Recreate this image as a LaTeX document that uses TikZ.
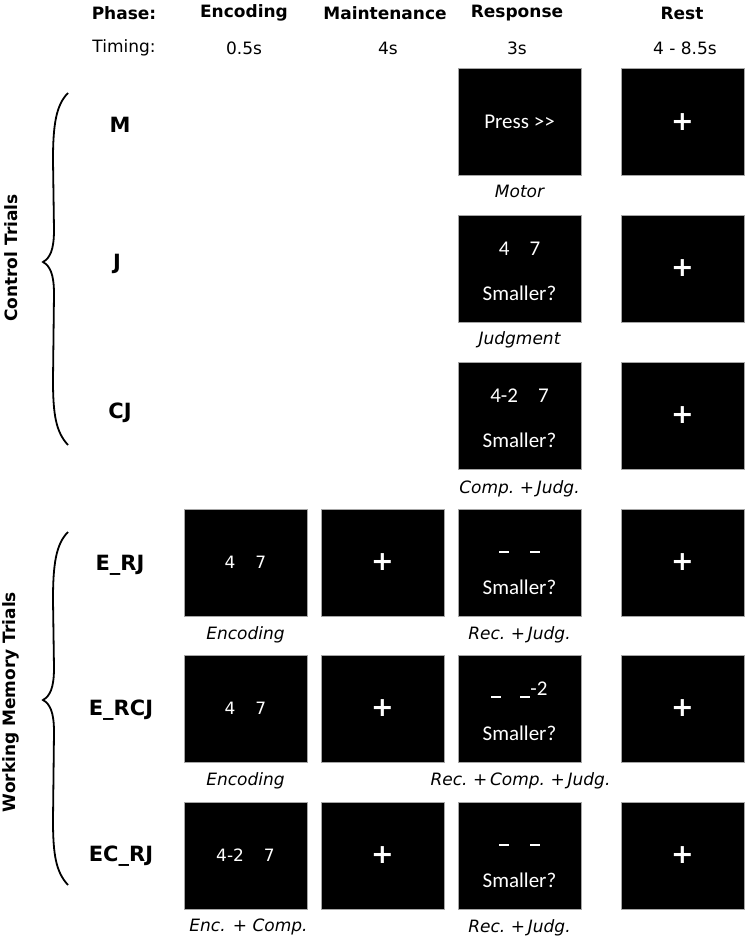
\documentclass[tikz,border=0pt]{standalone}
\usepackage{fontspec}
\setmainfont{DejaVu Sans}
\newfontfamily\scrfont{Carlito}
\newcommand{\dsh}{\rule[4.2pt]{10pt}{1.8pt}}

\begin{document}
\begin{tikzpicture}[x=1pt,y=-1pt,
  scr/.style={fill=black,draw=gray!70,line width=0.8pt,minimum width=123pt,minimum height=107pt,inner sep=0pt,text=white},
  dig/.style={text=white,inner sep=0pt,anchor=base,font=\scrfont\fontsize{21}{24}\selectfont},
  enc/.style={font=\fontsize{17}{20}\selectfont},
  pls/.style={font=\bfseries\fontsize{27}{30}\selectfont},
  hd/.style={font=\bfseries\fontsize{17}{20}\selectfont},
  tm/.style={font=\fontsize{17}{20}\selectfont},
  row/.style={font=\bfseries\fontsize{21}{24}\selectfont},
  grp/.style={font=\bfseries\fontsize{17}{20}\selectfont,rotate=90},
  lbl/.style={anchor=base,inner sep=0pt,font=\itshape\fontsize{17}{20}\selectfont}]
  \useasboundingbox (0,0) rectangle (746,936);

  % headings
  \node[hd] (h0) at (124,13) {Phase:};
  \node[hd] (h1) at (244,13) {Encoding};
  \node[hd] (h2) at (385,13) {Maintenance};
  \node[hd] (h3) at (517,13) {Response};
  \node[hd] (h4) at (682,13) {Rest};
  \node[tm] (t0) at (124,48) {Timing:};
  \node[tm] (t1) at (244,48) {0.5s};
  \node[tm] (t2) at (388,48) {4s};
  \node[tm] (t3) at (517,48) {3s};
  \node[tm] (t4) at (685,48) {4 - 8.5s};

  % row labels
  \node[row] (l1) at (120,124.5) {M};
  \node[row] (l2) at (117,263.5) {J};
  \node[row] (l3) at (120,412.5) {CJ};
  \node[row] (l4) at (120,565) {E\_RJ};
  \node[row] (l5) at (121,710) {E\_RCJ};
  \node[row] (l6) at (121,856.5) {EC\_RJ};

  % control trials
  \node[scr,dig,anchor=center] (r1) at (519.5,122) {Press >{}>};
  \node[scr] (r2) at (519.5,268.5) {};
  \node[dig] (r2a) at ([yshift=13.5pt]r2.center) {4\hspace{20pt}7};
  \node[dig] (r2b) at ([yshift=-31.5pt]r2.center) {Smaller?};
  \node[scr] (r3) at (519.5,415.5) {};
  \node[dig] (r3a) at ([yshift=13.5pt]r3.center) {4-2\hspace{20pt}7};
  \node[dig] (r3b) at ([yshift=-31.5pt]r3.center) {Smaller?};
  \node[lbl] (c1) at ([yshift=-22pt]r1.south) {Motor};
  \node[lbl] (c2) at ([yshift=-22pt]r2.south) {Judgment};
  \node[lbl] (c3) at ([yshift=-24pt]r3.south) {Comp.\ +\,Judg.};

  % working memory trials
  \node[scr,enc] (e4) at (245.5,562.5) {4\hspace{20pt}7};
  \node[scr,enc] (e5) at (245.5,708.5) {4\hspace{20pt}7};
  \node[scr,enc] (e6) at (245.5,855.5) {4-2\hspace{20pt}7};
  \node[scr,pls] (m4) at (382.5,562.5) {+};
  \node[scr,pls] (m5) at (382.5,708.5) {+};
  \node[scr,pls] (m6) at (382.5,855.5) {+};
  \node[scr] (r4) at (519.5,562.5) {};
  \node[dig] (r4a) at ([yshift=5.5pt]r4.center) {\dsh\hspace{21pt}\dsh};
  \node[dig] (r4b) at ([yshift=-31.5pt]r4.center) {Smaller?};
  \node[scr] (r5) at (519.5,708.5) {};
  \node[dig] (r5a) at ([yshift=6.5pt]r5.center) {\dsh\hspace{19pt}\dsh\raisebox{6.5pt}{-2}};
  \node[dig] (r5b) at ([yshift=-31.5pt]r5.center) {Smaller?};
  \node[scr] (r6) at (519.5,855.5) {};
  \node[dig] (r6a) at ([yshift=5.5pt]r6.center) {\dsh\hspace{21pt}\dsh};
  \node[dig] (r6b) at ([yshift=-31.5pt]r6.center) {Smaller?};
  \node[lbl] (c4) at ([yshift=-23pt]e4.south) {Encoding};
  \node[lbl] (c5) at ([yshift=-23pt]e5.south) {Encoding};
  \node[lbl] (c6) at ([xshift=3pt,yshift=-22pt]e6.south) {Enc. + Comp.};
  \node[lbl] (c7) at ([yshift=-23pt]r4.south) {Rec.\ +\,Judg.};
  \node[lbl] (c8) at ([xshift=1pt,yshift=-23pt]r5.south) {Rec.\ +\,Comp.\ +\,Judg.};
  \node[lbl] (c9) at ([yshift=-23pt]r6.south) {Rec.\ +\,Judg.};

  % rest column
  \node[scr,pls] (s1) at (682.5,122) {+};
  \node[scr,pls] (s2) at (682.5,268.5) {+};
  \node[scr,pls] (s3) at (682.5,415.5) {+};
  \node[scr,pls] (s4) at (682.5,562.5) {+};
  \node[scr,pls] (s5) at (682.5,708.5) {+};
  \node[scr,pls] (s6) at (682.5,855.5) {+};

  % braces
  \draw[line width=1.8pt] (68,93) .. controls (56,105) and (53,125) .. (53,160) -- (54,230)
    .. controls (54,250) and (50,258) .. (43,262) .. controls (50,266) and (54,274) .. (54,294)
    -- (53,380) .. controls (53,415) and (56,432) .. (68,445);
  \draw[line width=1.8pt] (68,532) .. controls (56,544) and (53,564) .. (53,600) -- (54,668)
    .. controls (54,688) and (50,696) .. (43,700) .. controls (50,704) and (54,712) .. (54,732)
    -- (53,820) .. controls (53,855) and (56,872) .. (68,885);
  \node[grp] (g1) at (11,258) {Control Trials};
  \node[grp] (g2) at (11,702) {Working Memory Trials};
\end{tikzpicture}
\end{document}
